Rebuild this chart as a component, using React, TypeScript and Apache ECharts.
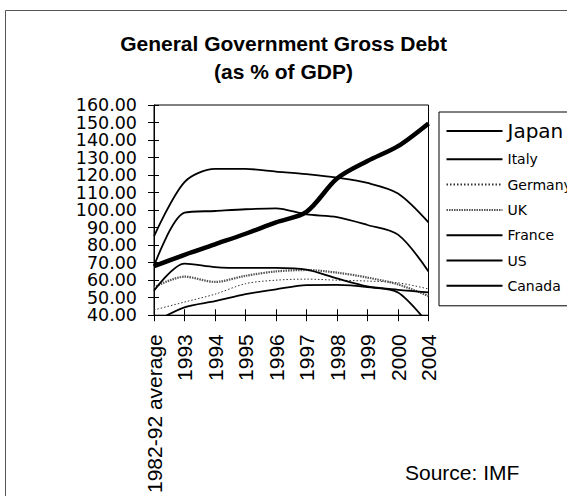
import React, { useEffect, useRef } from 'react';
import * as echarts from 'echarts';

const categories = ['1982-92 average', '1993', '1994', '1995', '1996', '1997', '1998', '1999', '2000', '2004'];
const japan = [68, 74.5, 80.5, 86.5, 93, 99, 118, 128, 136.5, 149.5];
const italy = [85, 116, 123.5, 123.5, 122, 120.5, 118.5, 115.5, 109.5, 93];
const germany = [43, 47.5, 52, 58, 60, 60.6, 60, 59.5, 58.5, 55];
const uk = [56, 62, 59, 62.5, 65, 65.8, 64.3, 61.5, 57.6, 51];
const france = [54, 69.5, 67.5, 67, 67, 66, 61, 56.5, 54.5, 53];
const us = [36, 44.5, 48, 52, 54.8, 57.2, 57.3, 56, 53, 35];
const canada = [68, 98.5, 99.5, 100.5, 101, 97.5, 96, 91.5, 86, 65];
const seriesNames = ['Japan', 'Italy', 'Germany', 'UK', 'France', 'US', 'Canada'];
const titleLines = ['General Government Gross Debt', '(as % of GDP)'];
const sourceText = 'Source: IMF';
const yMin = 40;
const yMax = 160;
const yStep = 10;

export default function App() {
  const ref = useRef<HTMLDivElement>(null);
  useEffect(() => {
    const chart = echarts.init(ref.current!, null, { renderer: 'svg' });
    const black = '#000';
    const mk = (name: string, data: number[], lineStyle: any, z = 2) => ({
      name,
      type: 'line',
      data,
      smooth: 0.3,
      symbol: 'none',
      showSymbol: false,
      clip: true,
      xAxisIndex: 0,
      yAxisIndex: 0,
      itemStyle: { color: lineStyle.color },
      lineStyle,
      z,
    });
    const baseY = {
      type: 'value',
      min: yMin,
      max: yMax,
      interval: yStep,
      position: 'left',
      splitLine: { show: false },
    };
    const labelStyle = {
      color: black,
      fontSize: 17.5,
      fontFamily: 'DejaVu Sans',
      margin: 17,
    };
    const isEven = (v: number) => Math.round((v - yMin) / yStep) % 2 === 0;
    chart.setOption({
      animation: false,
      backgroundColor: '#fff',
      textStyle: { fontFamily: 'DejaVu Sans' },
      graphic: [
        {
          type: 'rect',
          silent: true,
          z: -10,
          shape: { x: 5.5, y: 10.5, width: 700, height: 700 },
          style: { fill: 'none', stroke: '#555', lineWidth: 1 },
        },
        {
          type: 'text',
          x: 283.5,
          y: 43,
          style: {
            text: titleLines[0],
            font: 'bold 21px "Liberation Sans"',
            fill: black,
            textAlign: 'center',
            textVerticalAlign: 'middle',
          },
        },
        {
          type: 'text',
          x: 283.5,
          y: 71,
          style: {
            text: titleLines[1],
            font: 'bold 21px "Liberation Sans"',
            fill: black,
            textAlign: 'center',
            textVerticalAlign: 'middle',
          },
        },
        {
          type: 'text',
          x: 405,
          y: 472,
          style: {
            text: sourceText,
            font: '21px "Liberation Sans"',
            fill: black,
            textAlign: 'left',
            textVerticalAlign: 'middle',
          },
        },
      ],
      grid: {
        left: 154,
        right: 138.5,
        top: 105,
        bottom: 179.5,
        show: true,
        borderColor: black,
        borderWidth: 1,
        backgroundColor: 'transparent',
      },
      legend: {
        orient: 'vertical',
        left: 439,
        top: 112,
        itemWidth: 56,
        itemHeight: 14,
        itemGap: 11.3,
        padding: [9, 20, 13, 6.5],
        borderColor: black,
        borderWidth: 1,
        itemStyle: { opacity: 0, borderWidth: 0 },
        textStyle: { fontFamily: 'DejaVu Sans', fontSize: 14, color: black, lineHeight: 14 },
        data: seriesNames.map((n) =>
          n === 'Japan' ? { name: n, textStyle: { fontSize: 20, lineHeight: 14 } } : { name: n }
        ),
      },
      xAxis: [
        {
          type: 'category',
          data: categories,
          boundaryGap: false,
          position: 'bottom',
          axisLine: { show: true, lineStyle: { color: black, width: 1 } },
          axisTick: { show: true, length: 6, interval: 0, lineStyle: { color: black } },
          axisLabel: {
            rotate: 90,
            margin: 19,
            interval: 0,
            color: black,
            fontSize: 21,
            fontFamily: 'Liberation Sans',
          },
          splitLine: { show: false },
        },
        {
          type: 'category',
          data: categories,
          boundaryGap: false,
          position: 'bottom',
          axisLine: { show: false },
          axisTick: { show: true, inside: true, length: 6, interval: 0, lineStyle: { color: black } },
          axisLabel: { show: false },
          splitLine: { show: false },
        },
      ],
      yAxis: [
        {
          ...baseY,
          axisLine: { show: true, lineStyle: { color: black, width: 1 } },
          axisTick: { show: true, length: 6, lineStyle: { color: black } },
          axisLabel: { show: false },
        },
        {
          ...baseY,
          axisLine: { show: false },
          axisTick: { show: true, inside: true, length: 5, lineStyle: { color: black } },
          axisLabel: { show: false },
        },
        {
          ...baseY,
          axisLine: { show: false },
          axisTick: { show: false },
          axisLabel: {
            ...labelStyle,
            showMinLabel: true,
            showMaxLabel: true,
            formatter: (v: number) => (isEven(v) ? v.toFixed(2) : ''),
          },
        },
        {
          ...baseY,
          axisLine: { show: false },
          axisTick: { show: false },
          axisLabel: {
            ...labelStyle,
            showMinLabel: false,
            showMaxLabel: false,
            formatter: (v: number) => (isEven(v) ? '' : v.toFixed(2)),
          },
        },
      ],
      series: [
        mk('Japan', japan, { color: black, width: 4.5 }, 5),
        mk('Italy', italy, { color: black, width: 1.8 }),
        mk('Germany', germany, { color: '#333', width: 1, type: [1.5, 2] }),
        mk('UK', uk, { color: '#555', width: 2.2, type: [1.5, 1] }),
        mk('France', france, { color: black, width: 1.8 }),
        mk('US', us, { color: black, width: 1.8 }),
        mk('Canada', canada, { color: black, width: 1.8 }),
      ],
    });
    return () => chart.dispose();
  }, []);
  return (
    <div
      ref={ref}
      style={{ position: 'fixed', left: 0, top: 0, width: 567, height: 496, background: '#fff' }}
    />
  );
}
